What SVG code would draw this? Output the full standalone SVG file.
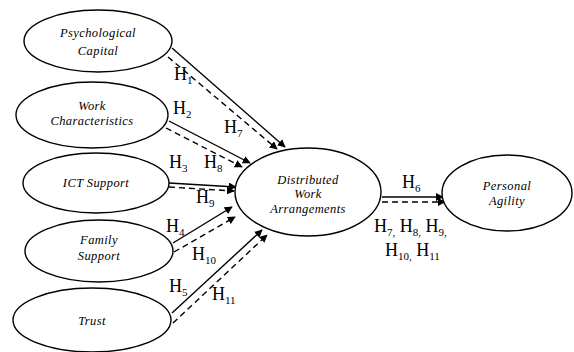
<svg xmlns="http://www.w3.org/2000/svg" width="574" height="352" viewBox="0 0 574 352">
<style>
text{font-family:'Liberation Serif','Times New Roman',serif;fill:#000}
.n ellipse{fill:#fff;stroke:#000;stroke-width:1.4}
.n text{font-style:italic;font-size:12.5px;letter-spacing:0.4px;text-anchor:middle}
.c line{stroke:#000;stroke-width:1.4}
.c .d{stroke-dasharray:6 4}
.h{font-size:18px}
.h tspan.s{font-size:11px}
</style>
<defs>
<marker id="a" viewBox="0 0 10 10" refX="9" refY="5" markerWidth="8" markerHeight="8" orient="auto" markerUnits="userSpaceOnUse"><path d="M0,0L10,5L0,10z" fill="#000"/></marker>
</defs>
<rect width="574" height="352" fill="#fff"/>
<g class="c">
<line x1="172" y1="48" x2="285" y2="147" marker-end="url(#a)"/>
<line class="d" x1="168" y1="57" x2="277" y2="149" marker-end="url(#a)"/>
<line x1="169" y1="121" x2="250" y2="163" marker-end="url(#a)"/>
<line class="d" x1="166" y1="128" x2="242" y2="167" marker-end="url(#a)"/>
<line x1="169" y1="183" x2="236" y2="187" marker-end="url(#a)"/>
<line class="d" x1="169" y1="187" x2="234" y2="191" marker-end="url(#a)"/>
<line x1="173" y1="243" x2="232" y2="207" marker-end="url(#a)"/>
<line class="d" x1="174" y1="252" x2="235" y2="217" marker-end="url(#a)"/>
<line x1="172" y1="313" x2="262" y2="230" marker-end="url(#a)"/>
<line class="d" x1="173" y1="323" x2="267" y2="235" marker-end="url(#a)"/>
<line x1="382" y1="197" x2="443" y2="197" marker-end="url(#a)"/>
<line class="d" x1="382" y1="202" x2="445" y2="202" marker-end="url(#a)"/>
</g>
<g id="pc" class="n"><ellipse cx="98" cy="41" rx="74" ry="31"/><text x="98" y="37">Psychological</text><text x="98" y="55">Capital</text></g>
<g id="wc" class="n"><ellipse cx="92" cy="115" rx="76" ry="33"/><text x="92" y="110">Work</text><text x="92" y="125">Characteristics</text></g>
<g id="ict" class="n"><ellipse cx="96" cy="183" rx="73" ry="30"/><text x="96" y="187">ICT Support</text></g>
<g id="fs" class="n"><ellipse cx="99" cy="251" rx="74" ry="31"/><text x="99" y="244">Family</text><text x="99" y="260">Support</text></g>
<g id="tr" class="n"><ellipse cx="92" cy="320" rx="79" ry="32"/><text x="92" y="325">Trust</text></g>
<g id="dwa" class="n"><ellipse cx="308" cy="192" rx="73" ry="44"/><text x="308" y="184">Distributed</text><text x="308" y="198">Work</text><text x="308" y="213">Arrangements</text></g>
<g id="pa" class="n"><ellipse cx="507" cy="193" rx="65" ry="38"/><text x="507" y="190">Personal</text><text x="507" y="205">Agility</text></g>
<g id="labels">
<text class="h" x="174" y="80">H<tspan class="s" dy="4">1</tspan></text>
<text class="h" x="224" y="133">H<tspan class="s" dy="4">7</tspan></text>
<text class="h" x="173" y="114">H<tspan class="s" dy="4">2</tspan></text>
<text class="h" x="204" y="168">H<tspan class="s" dy="4">8</tspan></text>
<text class="h" x="169" y="168">H<tspan class="s" dy="4">3</tspan></text>
<text class="h" x="196" y="203">H<tspan class="s" dy="4">9</tspan></text>
<text class="h" x="166" y="232">H<tspan class="s" dy="4">4</tspan></text>
<text class="h" x="192" y="260">H<tspan class="s" dy="4">10</tspan></text>
<text class="h" x="169" y="292">H<tspan class="s" dy="4">5</tspan></text>
<text class="h" x="212" y="300">H<tspan class="s" dy="4">11</tspan></text>
<text class="h" x="402" y="188">H<tspan class="s" dy="4">6</tspan></text>
<text class="h" x="374" y="232">H<tspan class="s" dy="4">7,</tspan><tspan dy="-4"> H</tspan><tspan class="s" dy="4">8,</tspan><tspan dy="-4"> H</tspan><tspan class="s" dy="4">9,</tspan></text>
<text class="h" x="385" y="256">H<tspan class="s" dy="4">10,</tspan><tspan dy="-4"> H</tspan><tspan class="s" dy="4">11</tspan></text>
</g>
</svg>
